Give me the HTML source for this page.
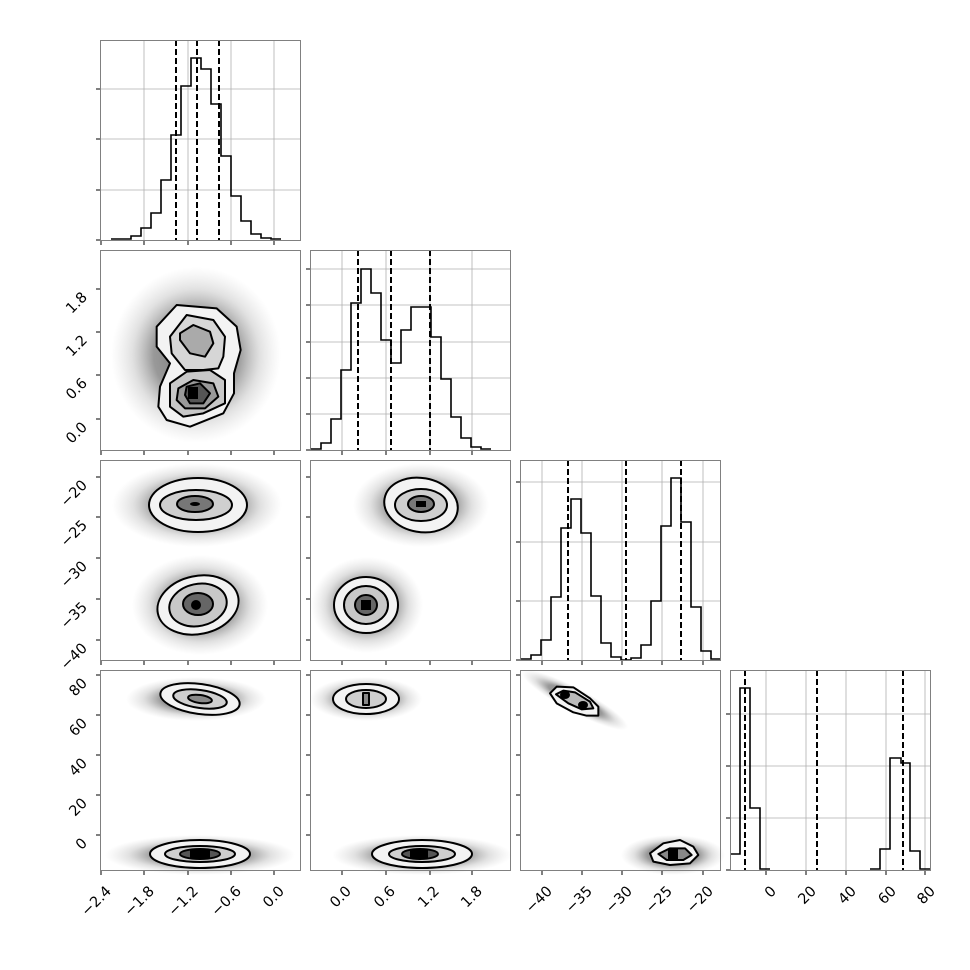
<!DOCTYPE html>
<html><head><meta charset="utf-8"><style>
html,body{margin:0;padding:0;background:#fff;}
svg{display:block;}
text{font-family:"DejaVu Sans","Liberation Sans",sans-serif;font-size:14.5px;fill:#000;}
</style></head><body>
<svg width="970" height="970" viewBox="0 0 970 970" xmlns="http://www.w3.org/2000/svg">
<defs>
<radialGradient id="cl" cx="50%" cy="50%" r="50%">
<stop offset="0" stop-color="#444" stop-opacity="0.75"/>
<stop offset="0.5" stop-color="#555" stop-opacity="0.6"/>
<stop offset="0.75" stop-color="#888" stop-opacity="0.25"/>
<stop offset="1" stop-color="#aaa" stop-opacity="0"/>
</radialGradient>
</defs>
<rect width="970" height="970" fill="#fff"/>

<g stroke="#b0b0b0" stroke-width="0.8">
<path d="M144,40V240M188,40V240M231,40V240M274,40V240M100,89H300M100,139H300M100,190H300"/>
<path d="M342,250V450M386,250V450M430,250V450M472,250V450M310,269H510M310,305H510M310,342H510M310,378H510M310,414H510"/>
<path d="M542,460V660M582,460V660M622,460V660M662,460V660M703,460V660M520,482H720M520,542H720M520,601H720"/>
<path d="M766,670V870M806,670V870M846,670V870M886,670V870M925,670V870M730,714H930M730,766H930M730,818H930"/>
</g>

<ellipse cx="196" cy="355" rx="85" ry="88" fill="url(#cl)"/>
<ellipse cx="197" cy="505" rx="85" ry="42" fill="url(#cl)"/>
<ellipse cx="200" cy="605" rx="68" ry="50" fill="url(#cl)"/>
<ellipse cx="421" cy="505" rx="68" ry="42" fill="url(#cl)"/>
<ellipse cx="367" cy="605" rx="56" ry="48" fill="url(#cl)"/>
<ellipse cx="196" cy="699" rx="70" ry="22" fill="url(#cl)"/>
<ellipse cx="200" cy="855" rx="95" ry="20" fill="url(#cl)"/>
<ellipse cx="366" cy="699" rx="56" ry="22" fill="url(#cl)"/>
<ellipse cx="422" cy="855" rx="90" ry="20" fill="url(#cl)"/>
<ellipse cx="575" cy="700" rx="60" ry="12" transform="rotate(28 575 700)" fill="url(#cl)"/>
<ellipse cx="673" cy="855" rx="52" ry="20" fill="url(#cl)"/>

<g stroke="#000" stroke-width="2" stroke-linejoin="round">
<g transform="translate(90,240) scale(0.33333)" stroke-width="6">
<path fill="#f3f3f3" d="M260,195 L380,205 L440,260 L452,330 L432,400 L432,460 L400,520 L300,560 L230,540 L205,500 L210,440 L240,370 L200,320 L200,260 Z"/>
<path fill="#d6d6d6" d="M240,290 L290,225 L370,240 L405,290 L400,350 L385,385 L340,390 L285,390 L245,340 Z"/>
<path fill="#aaa" d="M270,280 L310,255 L360,275 L370,310 L345,350 L300,340 L270,300 Z"/>
<path fill="#c8c8c8" d="M240,430 L290,395 L360,390 L405,420 L405,490 L340,520 L280,530 L240,500 Z"/>
<path fill="#999" d="M265,445 L310,420 L370,430 L385,470 L345,505 L285,505 L260,480 Z"/>
<path fill="#555" d="M290,440 L330,430 L360,460 L340,490 L300,490 L285,465 Z"/>
</g>
<rect x="188" y="387" width="10" height="12" fill="#000" stroke="none"/>

<ellipse cx="198" cy="505" rx="49" ry="27" fill="#f3f3f3"/>
<ellipse cx="196" cy="505" rx="36" ry="15" fill="#cfcfcf"/>
<ellipse cx="195" cy="504" rx="18" ry="8" fill="#777"/>
<ellipse cx="195" cy="504" rx="5" ry="2" fill="#000" stroke="none"/>
<ellipse cx="198" cy="605" rx="41" ry="29" fill="#f3f3f3" transform="rotate(-12 198 605)"/>
<ellipse cx="198" cy="605" rx="29" ry="21" fill="#c8c8c8" transform="rotate(-12 198 605)"/>
<ellipse cx="198" cy="604" rx="15" ry="11" fill="#666"/>
<ellipse cx="196" cy="605" rx="5" ry="5" fill="#000" stroke="none"/>

<ellipse cx="421" cy="505" rx="37" ry="27" fill="#f3f3f3" transform="rotate(10 421 505)"/>
<ellipse cx="421" cy="505" rx="26" ry="16" fill="#cfcfcf"/>
<ellipse cx="421" cy="504" rx="13" ry="8" fill="#777"/>
<rect x="416" y="501" width="10" height="6" fill="#000" stroke="none"/>
<ellipse cx="366" cy="605" rx="32" ry="28" fill="#f3f3f3"/>
<ellipse cx="366" cy="605" rx="22" ry="19" fill="#c8c8c8"/>
<ellipse cx="366" cy="605" rx="11" ry="10" fill="#666"/>
<rect x="361" y="600" width="10" height="10" fill="#000" stroke="none"/>

<ellipse cx="200" cy="699" rx="40" ry="15" fill="#f3f3f3" transform="rotate(8 200 699)"/>
<ellipse cx="200" cy="699" rx="27" ry="9" fill="#cfcfcf" transform="rotate(8 200 699)"/>
<ellipse cx="200" cy="699" rx="12" ry="4" fill="#888" transform="rotate(8 200 699)"/>
<ellipse cx="200" cy="854" rx="50" ry="14" fill="#f3f3f3"/>
<ellipse cx="200" cy="854" rx="35" ry="8" fill="#cfcfcf"/>
<ellipse cx="200" cy="854" rx="20" ry="5" fill="#555"/>
<rect x="190" y="850" width="20" height="8" fill="#000" stroke="none"/>

<ellipse cx="366" cy="699" rx="33" ry="15" fill="#f3f3f3"/>
<ellipse cx="366" cy="699" rx="20" ry="9" fill="#cfcfcf"/>
<rect x="363" y="693" width="6" height="12" fill="#888"/>
<ellipse cx="422" cy="854" rx="50" ry="14" fill="#f3f3f3"/>
<ellipse cx="422" cy="854" rx="33" ry="8" fill="#cfcfcf"/>
<ellipse cx="420" cy="854" rx="18" ry="5" fill="#555"/>
<rect x="410" y="850" width="18" height="8" fill="#000" stroke="none"/>

<g transform="translate(510,450) scale(0.33333)" stroke-width="6">
<path fill="#f3f3f3" d="M120,730 L140,710 L190,712 L240,745 L265,770 L265,797 L230,797 L190,787 L140,760 Z"/>
<path fill="#bbb" d="M138,733 L160,722 L195,727 L240,755 L250,775 L215,778 L175,760 Z"/>
<path fill="#f3f3f3" d="M420,1210 L460,1180 L510,1170 L550,1190 L565,1215 L540,1240 L480,1245 L430,1235 Z"/>
<path fill="#888" d="M445,1212 L480,1195 L525,1195 L545,1215 L520,1230 L470,1230 Z"/>
</g>
<ellipse cx="565" cy="695" rx="5" ry="4" fill="#000" stroke="none"/>
<ellipse cx="583" cy="705" rx="5" ry="4" fill="#000" stroke="none"/>
<rect x="668" y="849" width="10" height="11" fill="#000" stroke="none"/>
</g>

<g fill="none" stroke="#000" stroke-width="1.6">
<path d="M111,239 H131 V236 H141 V228 H151 V213 H161 V180 H171 V135 H181 V86 H191 V58 H201 V69 H211 V104 H221 V156 H231 V196 H241 V221 H251 V234 H261 V238 H271 V239 H281"/>
<path d="M311,449 H321 V443 H331 V419 H341 V370 H351 V303 H361 V269 H371 V293 H381 V340 H391 V363 H401 V330 H411 V307 H431 V337 H441 V379 H451 V417 H461 V438 H471 V447 H481 V449 H491"/>
<path d="M521,659 H531 V655 H541 V640 H551 V597 H561 V528 H571 V499 H581 V533 H591 V596 H601 V643 H611 V657 H621 V660 H631 V658 H641 V645 H651 V601 H661 V526 H671 V478 H681 V522 H691 V607 H701 V651 H711 V659 H720"/>
<path d="M730,854 H740 V688 H750 V808 H760 V869 H770 M870,869 H880 V849 H890 V758 H901 V763 H910 V851 H920 V869 H930"/>
</g>
<g stroke="#000" stroke-width="2" stroke-dasharray="6,3">
<path d="M176,40V240M197,40V240M219,40V240"/>
<path d="M358,250V450M391,250V450M430,250V450"/>
<path d="M568,460V660M626,460V660M681,460V660"/>
<path d="M745,670V870M817,670V870M903,670V870"/>
</g>

<g fill="none" stroke="#808080" stroke-width="1">
<rect x="100.5" y="40.5" width="200" height="200"/>
<rect x="100.5" y="250.5" width="200" height="200"/>
<rect x="310.5" y="250.5" width="200" height="200"/>
<rect x="100.5" y="460.5" width="200" height="200"/>
<rect x="310.5" y="460.5" width="200" height="200"/>
<rect x="520.5" y="460.5" width="200" height="200"/>
<rect x="100.5" y="670.5" width="200" height="200"/>
<rect x="310.5" y="670.5" width="200" height="200"/>
<rect x="520.5" y="670.5" width="200" height="200"/>
<rect x="730.5" y="670.5" width="200" height="200"/>
</g>

<g stroke="#000" stroke-width="1">
<path d="M96,89H100M96,139H100M96,190H100M96,240H100"/>
<path d="M101,241V245M144,241V245M188,241V245M231,241V245M274,241V245"/>
<path d="M96,289H100M96,332H100M96,375H100M96,419H100"/>
<path d="M101,451V455M144,451V455M188,451V455M231,451V455M274,451V455"/>
<path d="M306,269H310M306,305H310M306,342H310M306,378H310M306,414H310M306,450H310"/>
<path d="M342,451V455M386,451V455M430,451V455M472,451V455"/>
<path d="M96,477H100M96,517H100M96,558H100M96,599H100M96,640H100"/>
<path d="M306,477H310M306,517H310M306,558H310M306,599H310M306,640H310"/>
<path d="M101,661V665M144,661V665M188,661V665M231,661V665M274,661V665"/>
<path d="M342,661V665M386,661V665M430,661V665M472,661V665"/>
<path d="M516,482H520M516,542H520M516,601H520M516,660H520"/>
<path d="M542,661V665M582,661V665M622,661V665M662,661V665M703,661V665"/>
<path d="M96,675H100M96,715H100M96,755H100M96,795H100M96,835H100"/>
<path d="M306,675H310M306,715H310M306,755H310M306,795H310M306,835H310"/>
<path d="M516,675H520M516,715H520M516,755H520M516,795H520M516,835H520"/>
<path d="M726,714H730M726,766H730M726,818H730M726,870H730"/>
<path d="M101,871V875M144,871V875M188,871V875M231,871V875M274,871V875"/>
<path d="M342,871V875M386,871V875M430,871V875M472,871V875"/>
<path d="M542,871V875M582,871V875M622,871V875M662,871V875M703,871V875"/>
<path d="M766,871V875M806,871V875M846,871V875M886,871V875M925,871V875"/>
</g>

<g text-anchor="end">
<text transform="translate(112,892) rotate(-45)">−2.4</text>
<text transform="translate(155,892) rotate(-45)">−1.8</text>
<text transform="translate(199,892) rotate(-45)">−1.2</text>
<text transform="translate(242,892) rotate(-45)">−0.6</text>
<text transform="translate(285,892) rotate(-45)">0.0</text>
<text transform="translate(352,892) rotate(-45)">0.0</text>
<text transform="translate(396,892) rotate(-45)">0.6</text>
<text transform="translate(440,892) rotate(-45)">1.2</text>
<text transform="translate(483,892) rotate(-45)">1.8</text>
<text transform="translate(553,892) rotate(-45)">−40</text>
<text transform="translate(593,892) rotate(-45)">−35</text>
<text transform="translate(633,892) rotate(-45)">−30</text>
<text transform="translate(673,892) rotate(-45)">−25</text>
<text transform="translate(714,892) rotate(-45)">−20</text>
<text transform="translate(777,892) rotate(-45)">0</text>
<text transform="translate(817,892) rotate(-45)">20</text>
<text transform="translate(857,892) rotate(-45)">40</text>
<text transform="translate(897,892) rotate(-45)">60</text>
<text transform="translate(936,892) rotate(-45)">80</text>
<text transform="translate(88,298) rotate(-45)">1.8</text>
<text transform="translate(88,341) rotate(-45)">1.2</text>
<text transform="translate(88,384) rotate(-45)">0.6</text>
<text transform="translate(88,428) rotate(-45)">0.0</text>
<text transform="translate(88,486) rotate(-45)">−20</text>
<text transform="translate(88,526) rotate(-45)">−25</text>
<text transform="translate(88,567) rotate(-45)">−30</text>
<text transform="translate(88,608) rotate(-45)">−35</text>
<text transform="translate(88,649) rotate(-45)">−40</text>
<text transform="translate(88,684) rotate(-45)">80</text>
<text transform="translate(88,724) rotate(-45)">60</text>
<text transform="translate(88,764) rotate(-45)">40</text>
<text transform="translate(88,804) rotate(-45)">20</text>
<text transform="translate(88,844) rotate(-45)">0</text>
</g>
</svg>
</body></html>
